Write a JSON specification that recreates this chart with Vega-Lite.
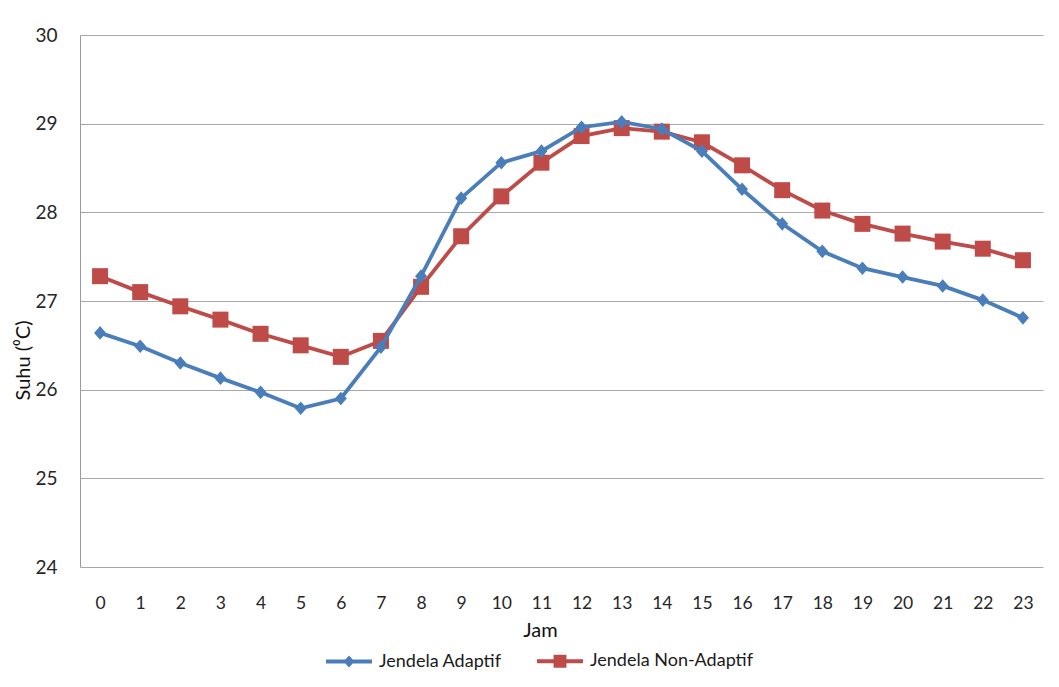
{
  "$schema": "https://vega.github.io/schema/vega-lite/v6.json",
  "width": 963,
  "height": 532,
  "autosize": "none",
  "padding": {"left": 80, "top": 35, "right": 16, "bottom": 120},
  "background": "white",
  "config": {
    "font": "Lato",
    "view": {"stroke": null},
    "axis": {"labelColor": "#262626", "titleColor": "#111111", "titleFontWeight": "normal"}
  },
  "data": {
    "values": [
      {"jam": 0, "series": "Jendela Adaptif", "suhu": 26.64},
      {"jam": 1, "series": "Jendela Adaptif", "suhu": 26.49},
      {"jam": 2, "series": "Jendela Adaptif", "suhu": 26.30},
      {"jam": 3, "series": "Jendela Adaptif", "suhu": 26.13},
      {"jam": 4, "series": "Jendela Adaptif", "suhu": 25.97},
      {"jam": 5, "series": "Jendela Adaptif", "suhu": 25.79},
      {"jam": 6, "series": "Jendela Adaptif", "suhu": 25.90},
      {"jam": 7, "series": "Jendela Adaptif", "suhu": 26.48},
      {"jam": 8, "series": "Jendela Adaptif", "suhu": 27.28},
      {"jam": 9, "series": "Jendela Adaptif", "suhu": 28.16},
      {"jam": 10, "series": "Jendela Adaptif", "suhu": 28.56},
      {"jam": 11, "series": "Jendela Adaptif", "suhu": 28.69},
      {"jam": 12, "series": "Jendela Adaptif", "suhu": 28.96},
      {"jam": 13, "series": "Jendela Adaptif", "suhu": 29.02},
      {"jam": 14, "series": "Jendela Adaptif", "suhu": 28.94},
      {"jam": 15, "series": "Jendela Adaptif", "suhu": 28.69},
      {"jam": 16, "series": "Jendela Adaptif", "suhu": 28.26},
      {"jam": 17, "series": "Jendela Adaptif", "suhu": 27.87},
      {"jam": 18, "series": "Jendela Adaptif", "suhu": 27.56},
      {"jam": 19, "series": "Jendela Adaptif", "suhu": 27.37},
      {"jam": 20, "series": "Jendela Adaptif", "suhu": 27.27},
      {"jam": 21, "series": "Jendela Adaptif", "suhu": 27.17},
      {"jam": 22, "series": "Jendela Adaptif", "suhu": 27.01},
      {"jam": 23, "series": "Jendela Adaptif", "suhu": 26.81},
      {"jam": 0, "series": "Jendela Non-Adaptif", "suhu": 27.28},
      {"jam": 1, "series": "Jendela Non-Adaptif", "suhu": 27.10},
      {"jam": 2, "series": "Jendela Non-Adaptif", "suhu": 26.94},
      {"jam": 3, "series": "Jendela Non-Adaptif", "suhu": 26.79},
      {"jam": 4, "series": "Jendela Non-Adaptif", "suhu": 26.63},
      {"jam": 5, "series": "Jendela Non-Adaptif", "suhu": 26.50},
      {"jam": 6, "series": "Jendela Non-Adaptif", "suhu": 26.37},
      {"jam": 7, "series": "Jendela Non-Adaptif", "suhu": 26.55},
      {"jam": 8, "series": "Jendela Non-Adaptif", "suhu": 27.16},
      {"jam": 9, "series": "Jendela Non-Adaptif", "suhu": 27.73},
      {"jam": 10, "series": "Jendela Non-Adaptif", "suhu": 28.18},
      {"jam": 11, "series": "Jendela Non-Adaptif", "suhu": 28.56},
      {"jam": 12, "series": "Jendela Non-Adaptif", "suhu": 28.86},
      {"jam": 13, "series": "Jendela Non-Adaptif", "suhu": 28.95},
      {"jam": 14, "series": "Jendela Non-Adaptif", "suhu": 28.91},
      {"jam": 15, "series": "Jendela Non-Adaptif", "suhu": 28.79},
      {"jam": 16, "series": "Jendela Non-Adaptif", "suhu": 28.53},
      {"jam": 17, "series": "Jendela Non-Adaptif", "suhu": 28.25},
      {"jam": 18, "series": "Jendela Non-Adaptif", "suhu": 28.02},
      {"jam": 19, "series": "Jendela Non-Adaptif", "suhu": 27.87},
      {"jam": 20, "series": "Jendela Non-Adaptif", "suhu": 27.76},
      {"jam": 21, "series": "Jendela Non-Adaptif", "suhu": 27.67},
      {"jam": 22, "series": "Jendela Non-Adaptif", "suhu": 27.59},
      {"jam": 23, "series": "Jendela Non-Adaptif", "suhu": 27.46}
    ]
  },
  "encoding": {
    "x": {
      "field": "jam",
      "type": "ordinal",
      "scale": {"type": "point", "padding": 0.5},
      "axis": {
        "title": "Jam",
        "labelAngle": 0,
        "ticks": false,
        "domain": false,
        "grid": false,
        "labelFontSize": 17.5,
        "labelPadding": 27,
        "titleFontSize": 20,
        "titleX": 460,
        "titleY": 63,
        "titleAlign": "center",
        "titleBaseline": "middle"
      }
    },
    "y": {
      "field": "suhu",
      "type": "quantitative",
      "scale": {"domain": [24, 30], "nice": false, "zero": false},
      "axis": {
        "title": "Suhu (⁰C)",
        "values": [24, 25, 26, 27, 28, 29, 30],
        "ticks": false,
        "domain": true,
        "domainColor": "#9a9a9a",
        "gridColor": "#a8a8a8",
        "gridWidth": 1,
        "labelFontSize": 19,
        "labelPadding": 23,
        "titleFontSize": 20,
        "titleAngle": 270,
        "titleX": -57,
        "titleY": 325,
        "titleAlign": "center",
        "titleBaseline": "middle"
      }
    }
  },
  "layer": [
    {
      "transform": [{"filter": "datum.series === 'Jendela Non-Adaptif'"}],
      "mark": {
        "type": "line",
        "strokeWidth": 3.8,
        "color": "#be4b48",
        "point": {"filled": true, "opacity": 1, "size": 256, "shape": "M-1,-1H1V1H-1Z", "color": "#be4b48"}
      }
    },
    {
      "transform": [{"filter": "datum.series === 'Jendela Adaptif'"}],
      "mark": {
        "type": "line",
        "strokeWidth": 3.8,
        "color": "#4a7ebb",
        "point": {"filled": true, "opacity": 1, "size": 256, "shape": "M0,-0.85L0.75,0L0,0.85L-0.75,0Z", "color": "#4a7ebb"}
      }
    },
    {
      "mark": {"type": "point", "filled": true, "opacity": 1, "size": 0},
      "encoding": {
        "color": {
          "field": "series",
          "type": "nominal",
          "scale": {"domain": ["Jendela Adaptif", "Jendela Non-Adaptif"], "range": ["#4a7ebb", "#be4b48"]},
          "legend": {
            "orient": "none",
            "legendX": 245,
            "legendY": 602,
            "direction": "horizontal",
            "title": null,
            "symbolSize": 2116,
            "symbolOpacity": 1,
            "labelFontSize": 18,
            "labelColor": "#1a1a1a",
            "labelOffset": 6,
            "labelLimit": 400,
            "columnPadding": 32
          }
        },
        "shape": {
          "field": "series",
          "type": "nominal",
          "scale": {
            "domain": ["Jendela Adaptif", "Jendela Non-Adaptif"],
            "range": [
              "M-1,-0.085H1V0.085H-1Z M0,-0.26L0.24,0L0,0.26L-0.24,0Z",
              "M-1,-0.085H1V0.085H-1Z M-0.28,-0.28H0.28V0.28H-0.28Z"
            ]
          },
          "legend": {
            "orient": "none",
            "legendX": 245,
            "legendY": 602,
            "direction": "horizontal",
            "title": null,
            "labelLimit": 400
          }
        }
      }
    }
  ]
}
